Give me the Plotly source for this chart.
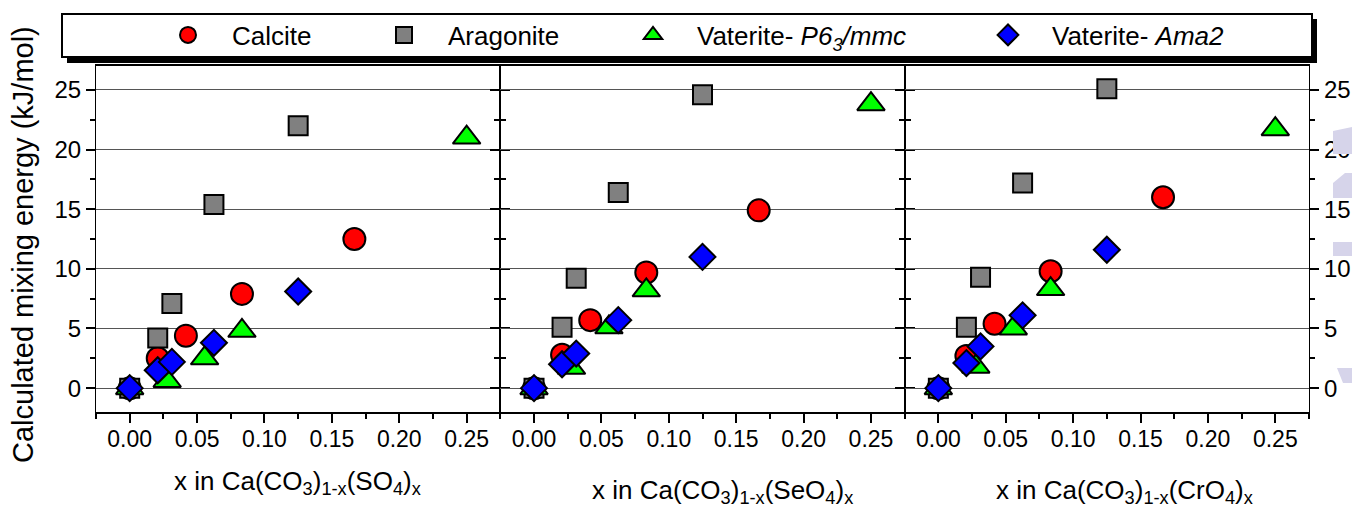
import plotly.graph_objects as go

# ---------------- data ----------------
x_calcite = [0.0, 0.0208, 0.0417, 0.0833, 0.1667]
x_aragonite = [0.0, 0.0208, 0.0313, 0.0625, 0.125]
x_p63mmc = [0.0, 0.0278, 0.0556, 0.0833, 0.25]
x_ama2 = [0.0, 0.0208, 0.0313, 0.0625, 0.125]

so4_calcite = [0.0, 2.5, 4.4, 7.9, 12.5]
so4_aragonite = [0.0, 4.2, 7.1, 15.4, 22.0]
so4_p63mmc = [0.0, 0.6, 2.5, 4.8, 21.0]
so4_ama2 = [0.0, 1.5, 2.2, 3.8, 8.1]

seo4_calcite = [0.0, 2.8, 5.7, 9.7, 14.9]
seo4_aragonite = [0.0, 5.1, 9.2, 16.4, 24.6]
seo4_p63mmc = [0.0, 1.7, 5.1, 8.2, 23.8]
seo4_ama2 = [0.0, 2.0, 2.9, 5.7, 11.0]

cro4_calcite = [0.0, 2.7, 5.4, 9.8, 16.0]
cro4_aragonite = [0.0, 5.1, 9.3, 17.2, 25.1]
cro4_p63mmc = [0.0, 1.8, 5.0, 8.3, 21.7]
cro4_ama2 = [0.0, 2.1, 3.5, 6.1, 11.6]

series_names = ["Calcite", "Aragonite", "Vaterite- <i>P6<sub>3</sub>/mmc</i>", "Vaterite- <i>Ama2</i>"]
panel_titles = [
    "x in Ca(CO<sub>3</sub>)<sub>1-x</sub>(SO<sub>4</sub>)<sub>x</sub>",
    "x in Ca(CO<sub>3</sub>)<sub>1-x</sub>(SeO<sub>4</sub>)<sub>x</sub>",
    "x in Ca(CO<sub>3</sub>)<sub>1-x</sub>(CrO<sub>4</sub>)<sub>x</sub>",
]
y_title = "Calculated mixing energy (kJ/mol)"
x_tickvals = [0.0, 0.05, 0.10, 0.15, 0.20, 0.25]
x_ticktext = ["0.00", "0.05", "0.10", "0.15", "0.20", "0.25"]
y_tickvals = [0, 5, 10, 15, 20, 25]

# ---------------- styling ----------------
W, H = 1352, 508
ML, MR, MT, MB = 96, 43, 66, 96
PW, PH = W - ML - MR, H - MT - MB
FONT = "Liberation Sans, Arial, sans-serif"


def px(p):
    return (p - ML) / PW


def py(q):
    return (H - MB - q) / PH


styles = [
    dict(symbol="circle", size=22, color="#ff0000"),
    dict(symbol="square", size=19, color="#808080"),
    dict(symbol="triangle-up", size=24, color="#00ff00"),
    dict(symbol="diamond", size=20, color="#0000ff"),
]
legend_ids = ["legend", "legend2", "legend3", "legend4"]

panels = [
    [(x_calcite, so4_calcite), (x_aragonite, so4_aragonite), (x_p63mmc, so4_p63mmc), (x_ama2, so4_ama2)],
    [(x_calcite, seo4_calcite), (x_aragonite, seo4_aragonite), (x_p63mmc, seo4_p63mmc), (x_ama2, seo4_ama2)],
    [(x_calcite, cro4_calcite), (x_aragonite, cro4_aragonite), (x_p63mmc, cro4_p63mmc), (x_ama2, cro4_ama2)],
]

fig = go.Figure()
for pi, panel in enumerate(panels):
    xa = "x" if pi == 0 else f"x{pi+1}"
    ya = "y" if pi == 0 else f"y{pi+1}"
    for si, (xs, ys) in enumerate(panel):
        st = styles[si]
        fig.add_trace(go.Scatter(
            x=xs, y=ys, mode="markers", name=series_names[si],
            xaxis=xa, yaxis=ya,
            legend=legend_ids[si],
            showlegend=(pi == 0),
            marker=dict(symbol=st["symbol"], size=st["size"], color=st["color"],
                        line=dict(color="black", width=2)),
            cliponaxis=False,
        ))

xrange = [-0.025, 0.275]
yrange = [-2, 27]
domains = [[0, 1/3], [1/3, 2/3], [2/3, 1]]

layout = dict(
    width=W, height=H, autosize=False,
    margin=dict(l=ML, r=MR, t=MT, b=MB, pad=0, autoexpand=False),
    paper_bgcolor="white", plot_bgcolor="white",
    font=dict(family=FONT, color="black"),
)

for pi in range(3):
    sfx = "" if pi == 0 else str(pi + 1)
    layout["xaxis" + sfx] = dict(
        domain=domains[pi], range=xrange, anchor="y" + sfx,
        tickmode="array", tickvals=x_tickvals, ticktext=x_ticktext,
        ticks="outside", ticklen=9, tickwidth=1.5, tickcolor="black",
        ticklabelstandoff=-4,
        minor=dict(ticks="outside", ticklen=5, tickwidth=1.5, tickcolor="black",
                   tickmode="linear", tick0=0.025, dtick=0.05),
        showline=True, linecolor="black", linewidth=2, mirror=True,
        showgrid=False, zeroline=False,
        tickfont=dict(family=FONT, size=23, color="black"),
    )
    # top axis with inward ticks
    layout["xaxis" + str(pi + 4)] = dict(
        overlaying="x" + sfx, anchor="y" + sfx, side="top", range=xrange,
        tickmode="linear", tick0=0, dtick=0.025,
        ticks="inside", ticklen=7, tickwidth=1.5, tickcolor="black",
        showticklabels=False, showgrid=False, zeroline=False, showline=False,
    )
    layout["yaxis" + sfx] = dict(
        domain=[0, 1], range=yrange, anchor="x" + sfx,
        matches=None if pi == 0 else "y",
        side="right" if pi == 2 else "left",
        tickmode="array", tickvals=y_tickvals,
        ticks="outside", ticklen=9, tickwidth=1.5, tickcolor="black",
        minor=dict(ticks="outside", ticklen=5, tickwidth=1.5, tickcolor="black",
                   tickmode="linear", tick0=2.5, dtick=5),
        showline=True, linecolor="black", linewidth=1.2, mirror="ticks",
        showgrid=True, gridcolor="#555555", gridwidth=1, zeroline=False,
        showticklabels=(pi != 1),
        tickfont=dict(family=FONT, size=24, color="black"),
    )

# legends (one per series so each entry sits where the original has it)
marker_centers = [188, 404, 653, 1008]
for li, cx in enumerate(marker_centers):
    layout[legend_ids[li]] = dict(
        x=px(cx - 44), xanchor="left", y=py(35), yanchor="middle",
        orientation="h", bgcolor="rgba(0,0,0,0)", borderwidth=0,
        itemwidth=78, font=dict(family=FONT, size=26, color="black"),
        itemclick=False, itemdoubleclick=False,
    )

shapes = [
    # legend shadow and box
    dict(type="rect", xref="paper", yref="paper", x0=px(67), x1=px(1317), y0=py(63), y1=py(19),
         fillcolor="black", line=dict(width=0), layer="below"),
    dict(type="rect", xref="paper", yref="paper", x0=px(62), x1=px(1312), y0=py(57), y1=py(14),
         fillcolor="white", line=dict(color="black", width=2), layer="below"),
]


def poly(points):
    d = "M " + " L ".join(f"{px(a):.5f},{py(b):.5f}" for a, b in points) + " Z"
    return dict(type="path", xref="paper", yref="paper", path=d,
                fillcolor="#d6d4ea", line=dict(width=0), layer="above")


shapes += [
    poly([(1333, 131), (1352, 127), (1352, 154), (1333, 154)]),
    poly([(1333, 183), (1345, 173), (1352, 173), (1352, 198), (1333, 198)]),
    poly([(1333, 242), (1352, 242), (1352, 256), (1333, 256)]),
    poly([(1337, 368), (1352, 368), (1352, 383), (1343, 383)]),
]
layout["shapes"] = shapes

title_centers = [297, 722, 1124]
title_ys = [482, 492, 492]
annotations = []
for ti, t in enumerate(panel_titles):
    annotations.append(dict(
        text=t, xref="paper", yref="paper", x=px(title_centers[ti]), y=py(title_ys[ti]),
        xanchor="center", yanchor="middle", showarrow=False,
        font=dict(family=FONT, size=26, color="black"),
    ))
annotations.append(dict(
    text=y_title, xref="paper", yref="paper", x=px(23), y=py(245),
    xanchor="center", yanchor="middle", showarrow=False, textangle=-90,
    font=dict(family=FONT, size=29, color="black"),
))
layout["annotations"] = annotations

fig.update_layout(**layout)
fig.write_html(
    "out.html",
    config={"displayModeBar": False},
    post_script="document.body.style.margin='0';document.body.style.overflow='hidden';",
)
